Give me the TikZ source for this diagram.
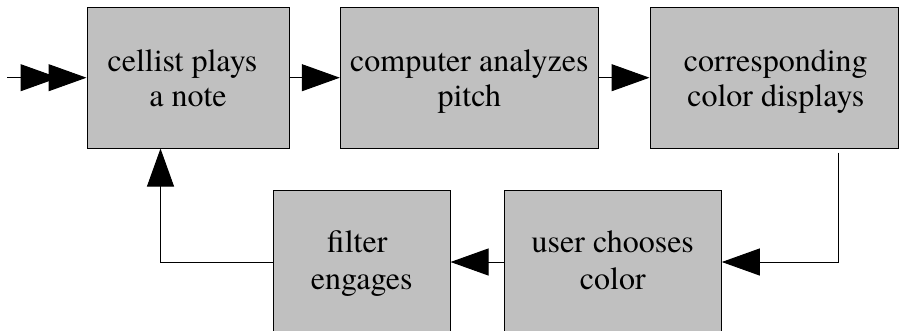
\documentclass[tikz,border=0pt]{standalone}
\usepackage{fontspec}
\setmainfont{texgyretermes-regular.otf}
\newfontfamily\boxfont{texgyretermes-regular.otf}
\usetikzlibrary{arrows.meta}
\definecolor{boxgray}{HTML}{C0C0C0}
\newcommand\toplines[2]{\rule{0pt}{30pt}#1\\#2\rule[-7.9pt]{0pt}{7.9pt}}
\newcommand\botlines[2]{\rule{0pt}{30pt}#1\\#2\rule[-12pt]{0pt}{12pt}}
\tikzset{
  box/.style={draw=black, line width=1pt, fill=boxgray, align=center, inner sep=0pt},
  topbox/.style={box, minimum height=140.7pt, font=\boxfont\fontsize{32}{34.5}\selectfont},
  botbox/.style={box, minimum height=144pt, font=\boxfont\fontsize{32}{37}\selectfont},
  conn/.style={draw=black, line width=1pt, -{Triangle[length=38pt,width=27pt]}},
}
\begin{document}
\begin{tikzpicture}[x=1pt,y=-1pt]
\useasboundingbox (0,0) rectangle (899,330);
\clip (0,0) rectangle (899,330);
\node[topbox, minimum width=202pt] (b1) at (188,77.7) {\toplines{cellist plays\kern11pt}{a note}};
\node[topbox, minimum width=258pt] (b2) at (469.3,77.7) {\toplines{computer analyzes}{pitch}};
\node[topbox, minimum width=248.5pt] (b3) at (774.25,77.7) {\toplines{\kern3pt corresponding}{\kern3pt color displays}};
\node[botbox, minimum width=217pt] (b4) at (612.8,262) {\botlines{user chooses}{color}};
\node[botbox, minimum width=176.7pt] (b5) at (361.7,262) {\botlines{filter\kern9pt}{engages}};
\coordinate (in) at (7,77.7);
\draw[conn] (in) -- (b1.west);
\draw[conn] (in) -- ([xshift=-28pt]b1.west);
\draw[conn] (b1.east) -- (b2.west);
\draw[conn] (b2.east) -- (b3.west);
\draw[conn] ([xshift=63.75pt,yshift=-4pt]b3.south) |- (b4.east);
\draw[conn] (b4.west) -- (b5.east);
\draw[conn] (b5.west) -| ([xshift=-27.5pt]b1.south);
\end{tikzpicture}
\end{document}
